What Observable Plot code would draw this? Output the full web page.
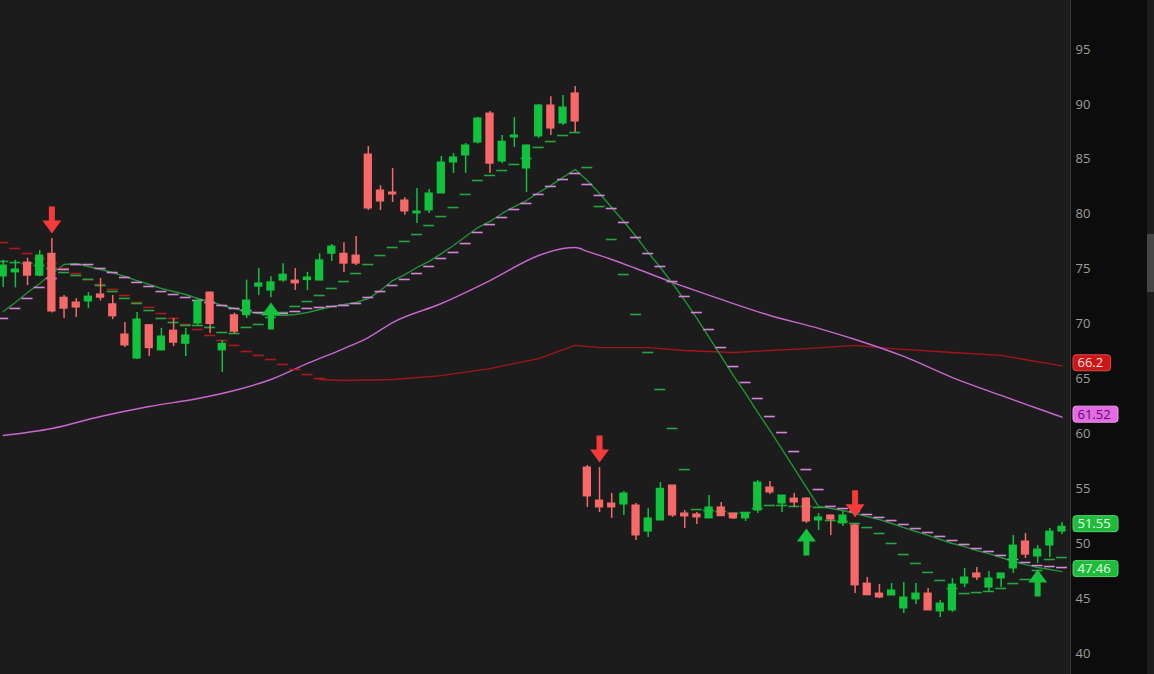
<!DOCTYPE html>
<html><head><meta charset="utf-8">
<script src="https://cdn.jsdelivr.net/npm/d3@7"></script>
<script src="https://cdn.jsdelivr.net/npm/@observablehq/plot@0.6"></script>
<style>
html,body{margin:0;padding:0;background:#1c1c1c;overflow:hidden}
#wrap{position:relative;width:1154px;height:674px;background:linear-gradient(to right,#1c1c1c 0,#1c1c1c 1070px,#3a3a3a 1070px,#3a3a3a 1071px,#0c0c0c 1071px);}
#wrap svg{position:absolute;left:0;top:0}
#scroll{position:absolute;left:1147px;top:0;width:7px;height:674px;background:#1d1d1d}
#thumb{position:absolute;left:1147px;top:234px;width:7px;height:58px;background:#454545}
</style></head><body><div id="wrap"><div id="scroll"></div><div id="thumb"></div></div>
<script>
// ---- candles (bar index 0..87) ----
const open = [74.33,74.7,75.6,74.4,76.4,72.4,71.96,72.05,72.7,71.8, 69.05,66.86,69.9,67.6,69.4,68.2,70.05,72.87,67.6,70.8, 70.8,73.4,73.05,73.96,73.96,74.0,73.96,76.4,76.4,76.24, 85.44,82.16,81.98,81.25,80.07,80.34,81.89,84.71,85.35,86.53, 89.17,84.8,86.99,84.16,87.08,89.9,88.26,91.0,56.94,53.93, 53.66,53.57,53.48,51.1,52.11,55.3,52.75,52.66,52.3,53.3, 52.75,52.3,53.02,55.12,53.66,54.11,54.11,52.11,52.57,51.84, 51.66,46.37,45.46,45.28,44.1,44.92,45.46,43.83,43.92,46.37, 47.29,46.0,46.83,47.74,50.2,48.83,49.83,51.1];
const high = [75.8,75.8,76.0,76.7,77.8,72.6,72.3,72.87,74.15,72.6, 70.14,71.05,69.95,69.6,70.5,69.6,72.3,72.9,68.5,71.0, 74.0,75.05,74.3,75.5,75.05,74.7,76.4,77.24,77.4,77.97, 86.17,82.6,84.16,81.5,82.34,82.25,85.26,85.53,86.44,88.8, 89.35,87.17,88.8,86.3,90.0,90.7,90.8,91.63,57.12,56.94, 54.57,54.75,53.66,53.2,55.57,55.3,53.02,52.84,54.39,53.75, 52.75,52.84,55.75,55.66,54.39,54.57,54.2,52.75,52.6,52.93, 51.8,46.92,46.28,46.37,46.46,46.37,45.92,44.83,46.83,47.74, 47.83,47.47,47.29,50.75,50.93,49.83,51.38,51.93];
const low = [73.33,73.3,73.5,74.3,71.0,70.5,70.6,71.4,72.1,70.4, 67.86,66.77,67.05,67.55,67.95,67.05,69.9,69.14,65.6,69.1, 70.5,72.6,72.4,73.8,73.05,73.05,73.96,75.7,74.7,75.33, 80.34,80.34,81.07,79.9,79.16,80.07,81.89,83.71,83.71,86.4, 83.7,84.6,86.08,81.98,86.9,87.17,88.08,87.44,53.3,52.84, 52.3,52.57,50.3,50.56,52.11,52.39,51.38,51.75,52.3,52.48, 52.2,52.02,52.75,54.48,52.84,53.3,51.84,51.2,50.75,51.57, 45.46,45.28,45.0,45.28,43.64,44.46,43.92,43.28,43.74,46.0, 46.65,45.55,46.0,47.29,48.65,48.2,48.74,50.84];
const close = [75.33,74.97,74.4,76.24,71.14,71.4,71.5,72.5,72.4,70.7, 68.05,70.41,67.8,68.87,68.3,68.96,72.05,70.0,68.2,69.3, 72.14,73.7,73.8,74.5,73.7,74.24,75.8,77.06,75.5,75.5, 80.52,81.16,81.8,80.25,80.25,81.89,84.71,85.17,86.26,88.72, 84.6,86.6,87.17,86.26,89.9,87.8,89.72,88.44,54.3,53.3, 53.3,54.57,50.75,52.3,55.0,52.57,52.48,52.39,53.3,52.5, 52.3,52.75,55.57,54.66,54.39,53.75,52.02,52.39,52.2,52.57, 46.2,45.3,45.1,45.74,45.1,45.46,43.92,44.55,46.28,46.92, 46.92,46.83,47.29,49.83,49.0,49.47,51.1,51.55];

// ---- solid green study line (per bar) ----
const greenLine = [71.14,71.96,72.87,73.69,74.60,75.42,75.51,75.24,74.97,74.69, 74.33,73.96,73.60,73.24,72.96,72.69,72.33,72.05,71.69,71.42, 71.14,70.96,70.87,70.78,70.87,71.05,71.32,71.60,71.78,71.96, 72.33,73.05,73.96,74.51,75.15,75.70,76.42,77.15,77.97,78.79, 79.34,80.07,80.70,81.25,81.98,82.62,83.35,84.07,83.07,81.89, 80.61,79.34,77.97,76.51,75.15,73.69,72.15,70.51,68.78,67.05, 65.31,63.68,61.95,60.31,58.58,56.85,55.12,53.39,53.20,53.02, 52.75,52.48,52.20,51.84,51.47,51.11,50.75,50.38,50.02,49.74, 49.38,49.10,48.74,48.38,48.10,47.83,47.65,47.46];

// ---- pink and dark red solid lines (sampled bars) ----
const pinkLineBars = [0,4,8,12,16,19,22,25,28,30,32,36,40,44,46,47,48,50,52,55,59,63,67,70,74,78,82,85,87];
const pinkLineVals = [59.85,60.49,61.58,62.49,63.22,63.95,64.95,66.41,67.77,68.77,70.14,71.87,73.96,76.24,76.88,76.97,76.61,75.88,75.06,73.79,72.24,70.78,69.60,68.59,67.05,65.13,63.50,62.31,61.52];
const redLineBars = [26,28,32,36,40,44,46,47,49,53,56,60,63,66,70,73,78,82,87];
const redLineVals = [64.95,64.86,64.95,65.31,65.95,66.86,67.68,68.05,67.86,67.86,67.59,67.41,67.59,67.77,68.05,67.77,67.41,67.14,66.2];

// ---- dashed studies (one dash per bar) ----
const greenDash = [75.70,75.60,75.51,75.33,75.06,74.69,74.42,74.06,73.51,72.96, 72.33,71.87,71.23,70.51,70.14,69.87,69.87,69.69,69.23,69.14, 69.69,69.96,70.60,71.05,71.60,72.05,72.60,73.24,73.87,74.60, 75.42,76.24,76.97,77.52,78.15,78.97,79.79,80.61,81.80,83.07, 83.53,83.98,84.53,85.08,86.08,86.62,87.17,87.44,84.25,80.70, 77.70,74.51,70.87,67.41,64.04,60.49,56.75,53.11,53.02,52.93, 52.75,52.84,53.20,53.48,53.48,53.39,53.39,53.30,52.11,52.02, 51.84,51.47,50.93,50.02,49.01,48.20,47.38,46.65,45.92,45.46, 45.55,45.65,45.92,46.37,46.74,47.56,48.56,48.74];
const pinkDash = [70.51,71.42,72.33,73.33,74.15,74.97,75.42,75.42,75.06,74.69, 74.24,73.79,73.42,72.96,72.69,72.42,72.15,71.96,71.69,71.42, 71.23,71.05,70.96,70.96,71.14,71.42,71.51,71.60,71.69,71.87, 72.42,72.96,73.51,74.06,74.60,75.24,75.97,76.52,77.33,78.34, 79.06,79.70,80.43,80.98,81.80,82.53,83.16,83.71,82.71,81.71, 80.52,79.25,77.88,76.42,75.24,73.87,72.51,71.05,69.50,67.86, 66.13,64.68,63.22,61.58,60.12,58.39,56.75,54.93,53.39,53.20, 52.93,52.66,52.39,52.11,51.75,51.38,51.02,50.66,50.29,49.93, 49.56,49.29,48.93,48.56,48.29,48.01,47.92,47.83];
const redDash = [77.42,76.88,76.42,75.97,75.51,75.06,74.60,74.06,73.60,73.15, 72.60,71.96,71.51,70.96,70.51,69.96,69.50,68.96,68.50,68.05, 67.50,67.14,66.77,66.32,65.86,65.40,65.04];

// ---- signal arrows ----
const downArrowBars = [4,49,70];
const downArrowTips = [78.25,57.4,52.4];
const upArrowBars = [22,66,85];
const upArrowTips = [71.96,51.38,47.65];

// ---- price axis and tags ----
const yTicks = [40,45,50,55,60,65,70,75,80,85,90,95];
const tagValues = [66.2,61.52,51.55,47.46];
const tagTexts = ["66.2","61.52","51.55","47.46"];
const tagFills = ["#c91818","#e36ae3","#1fbb3a","#1fbb3a"];
const tagStrokes = ["#e04848","#f39af3","#4fd56a","#4fd56a"];
const tagInk = ["#ffdede","#5a0d63","#e6ffe6","#e6ffe6"];

// ---------- build ----------
const PX = 12.17, X0 = -0.222;               // px per bar, domain start
const xd = px => X0 + px / PX;               // pixel -> x data
const YPX = 10.982;                          // px per price unit
const candles = open.map((o, i) => ({i, o, h: high[i], l: low[i], c: close[i], up: close[i] >= o}));
const series = arr => arr.map((v, i) => ({i, v})).filter(d => d.v != null);
const pairs = (b, v) => b.map((x, k) => ({i: x, v: v[k]}));
const tags = tagValues.map((v, k) => ({v, t: tagTexts[k], f: tagFills[k], s: tagStrokes[k], ink: tagInk[k], w: tagTexts[k].length * 7.4 + 8}));
const UP = "#10c23c", DN = "#f86868";
const TAG_LIFT = 2.5 / YPX, TAG_HALF = 8 / YPX;

const downArrow = {draw(ctx) {ctx.moveTo(0,0); ctx.lineTo(-9.5,-13); ctx.lineTo(-3,-13); ctx.lineTo(-3,-27); ctx.lineTo(3,-27); ctx.lineTo(3,-13); ctx.lineTo(9.5,-13); ctx.closePath();}};
const upArrow = {draw(ctx) {ctx.moveTo(0,0); ctx.lineTo(-9.5,13); ctx.lineTo(-3,13); ctx.lineTo(-3,27); ctx.lineTo(3,27); ctx.lineTo(3,13); ctx.lineTo(9.5,13); ctx.closePath();}};

const chart = Plot.plot({
  width: 1154, height: 674,
  marginLeft: 0, marginRight: 84, marginTop: 0, marginBottom: 0,
  style: {background: "transparent", color: "#9c9c9c", fontFamily: "'Open Sans', sans-serif", fontSize: "13px", overflow: "visible"},
  x: {type: "linear", domain: [X0, xd(1070)], axis: null},
  y: {type: "linear", domain: [95 - 625 / YPX, 95 + 49 / YPX], axis: null},
  marks: [
    Plot.axisY(yTicks, {anchor: "right", tickSize: 0, tickPadding: 5, fontSize: 13, tickFormat: d => String(d)}),
    // solid studies
    Plot.line(pairs(redLineBars, redLineVals), {x: "i", y: "v", stroke: "#a3151b", strokeWidth: 1.3}),
    Plot.line(pairs(pinkLineBars, pinkLineVals), {x: "i", y: "v", stroke: "#c966d0", strokeWidth: 1.4, curve: "monotone-x"}),
    Plot.line(series(greenLine), {x: "i", y: "v", stroke: "#1f9434", strokeWidth: 1.4}),
    // dashed studies
    Plot.ruleY(series(redDash), {y: "v", x1: d => d.i - 0.45, x2: d => d.i + 0.45, stroke: "#b0181d", strokeWidth: 1.6}),
    Plot.ruleY(series(greenDash), {y: "v", x1: d => d.i - 0.45, x2: d => d.i + 0.45, stroke: "#22a83c", strokeWidth: 1.6}),
    Plot.ruleY(series(pinkDash), {y: "v", x1: d => d.i - 0.45, x2: d => d.i + 0.45, stroke: "#d884df", strokeWidth: 1.6}),
    // candles
    Plot.ruleX(candles, {x: "i", y1: "l", y2: "h", stroke: d => d.up ? UP : DN, strokeWidth: 1.5}),
    Plot.rect(candles, {x1: d => d.i - 0.34, x2: d => d.i + 0.34, y1: "o", y2: "c", fill: d => d.up ? UP : DN, insetTop: -0.5, insetBottom: -0.5}),
    // arrows
    Plot.dot(pairs(downArrowBars, downArrowTips), {x: "i", y: "v", symbol: downArrow, fill: "#f53a3a", stroke: "none", r: 5}),
    Plot.dot(pairs(upArrowBars, upArrowTips), {x: "i", y: "v", symbol: upArrow, fill: "#14c23c", stroke: "none", r: 5}),
    // price tags
    Plot.rect(tags, {x1: () => xd(1073), x2: d => xd(1073 + d.w), y1: d => d.v + TAG_LIFT - TAG_HALF, y2: d => d.v + TAG_LIFT + TAG_HALF, fill: d => d.f, stroke: d => d.s, strokeWidth: 1, rx: 3}),
    Plot.text(tags, {x: () => xd(1077), y: d => d.v + TAG_LIFT, text: "t", fill: d => d.ink, textAnchor: "start", fontSize: 13})
  ]
});
document.getElementById("wrap").prepend(chart);
</script>
</body></html>
